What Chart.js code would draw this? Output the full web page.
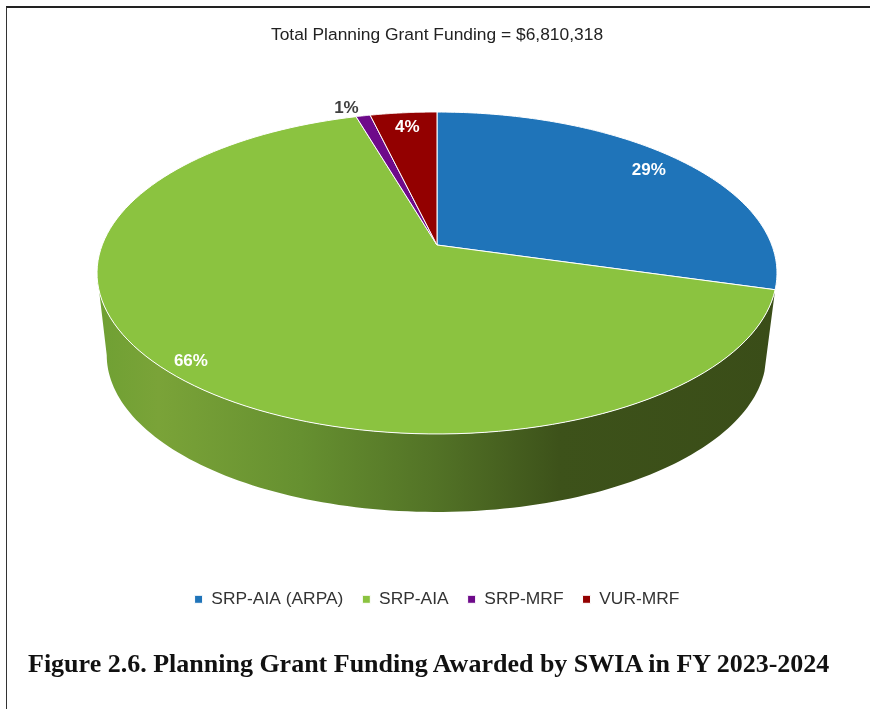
<!DOCTYPE html>
<html>
<head>
<meta charset="utf-8">
<title>Planning Grant Funding</title>
<script src="https://cdn.jsdelivr.net/npm/chart.js"></script>
<style>
    html, body { margin: 0; padding: 0; background: #fff; }
    #frame { position: relative; width: 870px; height: 709px; overflow: hidden; }
    #frame::before { content: ''; position: absolute; left: 6px; top: 6px; right: 0; bottom: 0; border-left: 1px solid #333; border-top: 2px solid #222; }
    #results-chart { position: absolute; left: 0; top: 0; }
    #caption { position: absolute; left: 28px; top: 649px; margin: 0; font: bold 26px "Liberation Serif", serif; color: #111; white-space: nowrap; }
</style>
</head>
<body>
<div id="frame">
    <canvas id="results-chart" width="870" height="709"></canvas>
    <p id="caption">Figure 2.6. Planning Grant Funding Awarded by SWIA in FY 2023-2024</p>
</div>
<script>
const categories = ['SRP-AIA (ARPA)', 'SRP-AIA', 'SRP-MRF', 'VUR-MRF'];
const shares = [29.4, 66.05, 0.8, 3.75];
const sliceColors = ['#1f74b9', '#8bc340', '#6e0a8a', '#930000'];
const chartTitle = 'Total Planning Grant Funding = $6,810,318';

// where the tilted pie sits on the page
const view = { x: 437, y: 245, rx: 334.8, ry: 156.1, tilt: -0.1739, midY: 273 };
const floorView = { x: 436.5, y: 355, sx: 0.97, sy: 0.975 };
const labelReach = [0.865, 0.925, 1.07, 0.87];

// circle angle -> point on the tilted top face, f = fraction of the radius
function topPoint(angle, f = 1) {
    const u = Math.cos(angle) * f;
    const v = Math.sin(angle) * f;
    const w = 1 + view.tilt * v;
    return { x: view.x + view.rx * u / w, y: view.y + view.ry * v / w };
}

function floorPoint(angle) {
    const p = topPoint(angle);
    return { x: floorView.x + floorView.sx * (p.x - view.x), y: floorView.y + floorView.sy * (p.y - view.midY) };
}

const tiltedPie = {
    id: 'tiltedPie',
    beforeDatasetsDraw(chart) {
        const ctx = chart.ctx;
        const arcs = chart.getDatasetMeta(0).data;
        const rightEdge = Math.asin(-view.tilt);
        const leftEdge = Math.PI - rightEdge;

        // rim first, only for slices facing the viewer
        arcs.forEach(arc => {
            const mid = (arc.startAngle + arc.endAngle) / 2;
            if (Math.sin(mid) <= 0) return;
            const from = Math.max(arc.startAngle, rightEdge);
            const to = Math.min(arc.endAngle, leftEdge);
            const grad = ctx.createLinearGradient(97, 0, 777, 0);
            grad.addColorStop(0, '#6fa033');
            grad.addColorStop(0.09, '#7aa338');
            grad.addColorStop(0.3, '#669030');
            grad.addColorStop(0.5, '#527226');
            grad.addColorStop(0.68, '#3d521a');
            grad.addColorStop(1, '#3a4d18');
            ctx.beginPath();
            for (let i = 0; i <= 120; i++) {
                const p = topPoint(from + (to - from) * i / 120);
                ctx.lineTo(p.x, p.y);
            }
            for (let i = 120; i >= 0; i--) {
                const p = floorPoint(from + (to - from) * i / 120);
                ctx.lineTo(p.x, p.y);
            }
            ctx.closePath();
            ctx.fillStyle = grad;
            ctx.fill();
        });

        // top face
        arcs.forEach(arc => {
            ctx.beginPath();
            ctx.moveTo(view.x, view.y);
            for (let i = 0; i <= 120; i++) {
                const p = topPoint(arc.startAngle + (arc.endAngle - arc.startAngle) * i / 120);
                ctx.lineTo(p.x, p.y);
            }
            ctx.closePath();
            ctx.fillStyle = arc.options.backgroundColor;
            ctx.fill();
            ctx.strokeStyle = arc.options.borderColor;
            ctx.lineWidth = arc.options.borderWidth;
            ctx.stroke();
        });

        // percent labels
        ctx.font = 'bold 17px "Liberation Sans", Arial, sans-serif';
        ctx.textBaseline = 'middle';
        arcs.forEach((arc, i) => {
            const mid = (arc.startAngle + arc.endAngle) / 2;
            const outside = shares[i] < 2;
            const p = topPoint(mid, labelReach[i]);
            ctx.fillStyle = outside ? '#404040' : '#ffffff';
            ctx.textAlign = outside ? 'right' : 'center';
            ctx.fillText(Math.round(shares[i]) + '%', p.x, p.y);
        });
        return false;
    }
};

const chartInstance = new Chart(document.getElementById('results-chart').getContext('2d'), {
    type: 'pie',
    data: {
        labels: categories,
        datasets: [{
            data: shares,
            backgroundColor: sliceColors,
            borderColor: '#ffffff',
            borderWidth: 1
        }]
    },
    options: {
        responsive: false,
        animation: false,
        layout: { padding: { top: 21, bottom: 91, left: 4 } },
        plugins: {
            title: {
                display: true,
                text: chartTitle,
                color: '#222222',
                font: { family: '"Liberation Sans", Arial, sans-serif', size: 17.4, weight: 'normal' },
                padding: { top: 4, bottom: 10 }
            },
            legend: {
                position: 'bottom',
                labels: {
                    boxWidth: 8,
                    boxHeight: 8,
                    padding: 19,
                    color: '#333333',
                    font: { family: '"Liberation Sans", Arial, sans-serif', size: 17.4 }
                }
            },
            tooltip: { enabled: false }
        }
    },
    plugins: [tiltedPie]
});
</script>
</body>
</html>
